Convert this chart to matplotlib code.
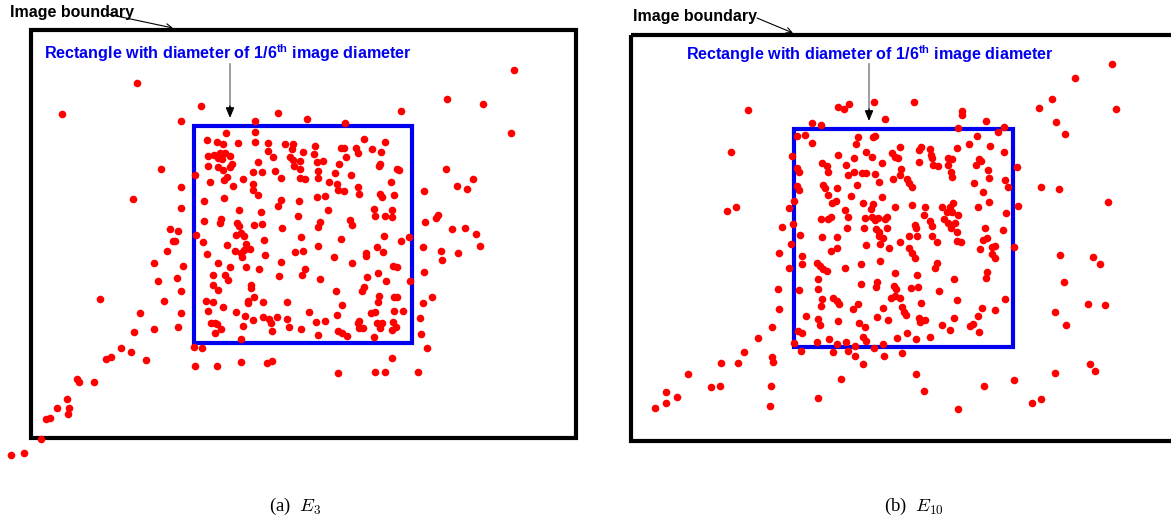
import matplotlib.pyplot as plt
from matplotlib.patches import Rectangle

# point positions, in image pixels (x right, y down)
e3_x = [137, 62, 161, 133, 170, 173, 167, 175,
        201, 181, 278, 255, 307, 345, 226, 255, 207, 217, 223, 238, 255, 268, 285, 293, 315, 341, 344, 292,
        268, 303, 314, 208, 214, 220, 225, 230, 218, 222, 273, 290, 293, 346, 258, 300, 317, 323, 339, 208,
        232, 230, 218, 223, 294, 300, 318, 253, 262, 275, 335, 351, 195, 227, 243, 281, 300, 305, 318, 210,
        224, 253, 329, 337, 181, 233, 253, 338, 344, 258, 224, 317, 325, 204, 281, 299, 278, 181, 239, 328,
        261, 298, 204, 221, 220, 237, 239, 254, 262, 282, 320, 318, 350, 352, 178, 196, 236, 241, 244, 301,
        341, 203, 227, 264, 318, 246, 250, 235, 241, 244, 295, 303, 207, 242, 265, 334,
        514, 447, 483, 401, 511, 364, 385, 356, 372, 358, 381, 380, 379, 397, 399, 446, 473, 391, 457, 467,
        424, 358, 359, 380, 382, 394, 374, 392, 375, 385, 392, 438, 436, 425, 452, 465, 476, 384, 409, 401,
        377, 383, 423, 480, 366, 366, 441, 458, 442,
        154, 158, 100, 164, 140, 154, 134, 121, 131, 106, 111, 146, 77, 79, 94, 67, 57, 69, 68, 46, 50, 41,
        24, 11,
        183, 218, 230, 246, 259, 281, 177, 213, 225, 228, 279, 302, 305, 320, 181, 213, 218, 251, 251, 336,
        206, 213, 248, 248, 254, 263, 287, 342, 223, 181, 208, 236, 245, 263, 269, 277, 309, 337, 253, 271,
        287, 316, 325, 178, 211, 215, 217, 221, 215, 243, 272, 289, 301, 318, 338, 342, 347, 241, 194, 202,
        195, 217, 241, 267, 272, 338, 352,
        393, 397, 378, 367, 386, 424, 410, 364, 362, 379, 378, 394, 397, 432, 423, 375, 371, 394, 403, 420,
        359, 358, 363, 359, 377, 382, 380, 393, 396, 392, 374, 421, 427, 392, 375, 385, 418]
e3_y = [83, 114, 169, 199, 229, 241, 251, 241,
        106, 121, 113, 121, 119, 123, 133, 132, 140, 142, 144, 143, 142, 143, 144, 144, 146, 148, 148, 149,
        151, 152, 154, 156, 155, 153, 153, 156, 158, 159, 157, 157, 160, 157, 162, 161, 162, 161, 164, 166,
        164, 167, 167, 170, 166, 169, 171, 172, 172, 171, 173, 175, 175, 177, 179, 178, 178, 179, 178, 182,
        180, 184, 182, 184, 187, 186, 190, 190, 191, 195, 198, 197, 196, 201, 200, 201, 206, 208, 210, 210,
        212, 216, 221, 219, 223, 223, 226, 225, 224, 228, 222, 227, 220, 225, 231, 235, 235, 233, 236, 237,
        239, 242, 245, 240, 246, 244, 249, 251, 253, 250, 252, 251, 254, 257, 255, 257,
        70, 99, 104, 111, 133, 139, 142, 148, 149, 153, 152, 164, 166, 169, 170, 169, 179, 182, 186, 189,
        191, 187, 194, 194, 197, 195, 209, 210, 216, 216, 217, 215, 218, 222, 229, 228, 234, 236, 237, 241,
        247, 252, 247, 246, 253, 256, 251, 253, 260,
        263, 281, 299, 301, 313, 329, 332, 348, 352, 359, 357, 360, 379, 382, 382, 399, 408, 408, 414, 419,
        418, 439, 453, 455,
        266, 263, 267, 267, 269, 262, 278, 275, 275, 280, 276, 275, 269, 279, 291, 285, 290, 285, 288, 291,
        301, 302, 301, 303, 297, 302, 302, 305, 307, 313, 311, 312, 316, 317, 319, 317, 312, 315, 320, 323,
        319, 322, 321, 327, 323, 323, 324, 329, 333, 326, 331, 327, 329, 335, 331, 333, 336, 339, 347, 348,
        366, 366, 362, 363, 361, 373, 263,
        266, 267, 273, 277, 281, 272, 281, 287, 291, 296, 302, 297, 297, 297, 303, 312, 313, 311, 311, 318,
        321, 323, 328, 328, 323, 323, 328, 322, 327, 330, 337, 334, 348, 358, 372, 372, 372]

e10_x = [748, 812, 821, 797, 805, 812, 731, 792, 797, 799, 797, 799, 727, 736, 794, 789, 782, 793, 800, 821,
         874, 914, 838, 844, 849, 885, 962, 962, 958, 986, 858, 873, 875, 856, 977, 900, 921, 919, 930, 957,
         969, 990, 866, 838, 892, 895, 898, 872, 854, 931, 932, 948, 952, 979, 981, 919, 882, 822, 827, 846,
         933, 938, 948, 976, 828, 848, 854, 862, 866, 875, 901, 900, 951, 952, 988, 989, 893, 907, 909, 879,
         857, 823, 825, 837, 974, 912, 983, 882, 851, 828, 832, 836, 863, 873, 912, 942, 950, 953, 978, 989,
         895, 845, 848, 871, 925, 924, 947, 952, 958, 828, 831, 865, 872, 875, 878, 885, 887, 930, 944, 948,
         876, 879, 887, 915, 916, 932, 955, 951, 985, 847, 864, 957,
         1112, 1075, 1052, 1039, 1116, 1056, 1065, 1004, 998, 1004, 1017, 1005, 1008, 1041, 1059, 1018, 1108,
         1006, 1003,
         791, 779, 802, 802, 789, 778, 799, 779, 806, 772, 798, 802, 758, 794, 801, 744, 772, 773, 721, 738,
         688, 771, 711, 720, 666, 677, 666, 655, 770,
         822, 837, 879, 883, 909, 917, 932, 957, 961, 983, 987, 866, 880, 900, 937, 831, 837, 889, 909, 980,
         992, 992, 995, 912, 915, 880, 817, 820, 823, 827, 861, 845, 937, 935, 895, 917, 987, 986, 954, 818,
         861, 877, 876, 894, 896, 911, 918, 818, 939, 895, 891, 900, 822, 833, 837, 839, 821, 858, 921, 957,
         853, 883, 902, 904, 906, 982, 995, 818, 820, 838, 859, 865, 877, 888, 919, 920, 925, 954, 978, 942,
         973, 970, 950, 979, 907, 897, 916, 930, 863, 866, 829, 817, 837, 846, 855, 874, 883, 833, 848, 902,
         855, 884, 863, 916, 841, 924, 984, 818, 958,
         995, 1014, 1060, 1093, 1100, 1064, 1005, 1088, 1105, 1055, 1066, 1090, 1095, 1055, 1014, 1041, 1032]
e10_y = [110, 123, 125, 136, 135, 143, 152, 156, 168, 172, 186, 190, 211, 207, 201, 208, 227, 224, 235, 219,
         102, 102, 107, 109, 104, 119, 111, 115, 128, 121, 137, 137, 136, 144, 136, 147, 147, 150, 149, 148,
         144, 146, 152, 155, 153, 157, 158, 157, 158, 155, 158, 158, 159, 159, 161, 162, 163, 163, 166, 165,
         165, 166, 165, 165, 172, 175, 172, 173, 173, 174, 169, 175, 172, 177, 170, 178, 179, 179, 183, 182,
         185, 185, 188, 188, 183, 187, 192, 197, 196, 195, 203, 201, 203, 204, 205, 207, 207, 203, 207, 202,
         207, 210, 217, 209, 207, 215, 212, 212, 215, 219, 217, 218, 217, 220, 218, 219, 217, 221, 219, 223,
         229, 232, 228, 225, 228, 226, 223, 228, 228, 228, 228, 232,
         64, 78, 99, 108, 109, 122, 134, 127, 132, 152, 167, 180, 187, 187, 189, 206, 202,
         213, 230,
         244, 253, 256, 264, 268, 289, 290, 309, 316, 327, 331, 333, 338, 343, 351, 352, 357, 362, 363, 363,
         374, 386, 387, 386, 392, 397, 403, 408, 406,
         237, 237, 236, 238, 236, 236, 236, 241, 242, 240, 238, 245, 244, 242, 242, 251, 248, 248, 248, 249,
         247, 254, 258, 253, 258, 261, 263, 266, 269, 271, 264, 268, 263, 268, 273, 275, 272, 278, 279, 279,
         284, 282, 287, 286, 289, 288, 287, 289, 291, 296, 298, 298, 299, 298, 301, 304, 306, 304, 303, 300,
         309, 308, 307, 312, 315, 308, 310, 319, 325, 321, 323, 327, 317, 320, 318, 322, 320, 318, 316, 325,
         324, 326, 330, 332, 333, 338, 339, 337, 337, 341, 339, 342, 344, 342, 346, 348, 344, 352, 351, 353,
         356, 356, 364, 374, 379, 391, 386, 398, 409,
         246, 247, 255, 257, 264, 282, 299, 304, 305, 312, 325, 364, 371, 373, 380, 399, 403]

# frames: (left, top, right, bottom)
e3_boundary = (31, 30, 576, 438)
e3_square = (194, 126, 412, 343)
e10_boundary = (631, 35, 1176, 441)
e10_square = (794, 129, 1013, 347)

captions = ['(a)  $E_3$', '(b)  $E_{10}$']
caption_x = [295, 914]

plt.rcParams['mathtext.bf'] = 'Liberation Sans:bold'

fig = plt.figure(figsize=(11.71, 5.19), dpi=100)
ax = fig.add_axes([0, 0, 1, 1])
ax.set_xlim(0, 1171)
ax.set_ylim(519, 0)
ax.axis('off')


def frame(box, color):
    l, t, r, b = box
    ax.add_patch(Rectangle((l, t), r - l, b - t, fill=False, edgecolor=color, lw=3.0, zorder=1))


frame(e3_boundary, 'black')
frame(e3_square, '#0000ee')
frame(e10_boundary, 'black')
frame(e10_square, '#0000ee')

ax.scatter(e3_x, e3_y, s=30, color='#ff0000', linewidths=0, zorder=3)
ax.scatter(e10_x, e10_y, s=30, color='#ff0000', linewidths=0, zorder=3)

sans = 'Liberation Sans'
panels = [(10, 13, 107, 173, 28, 44, 53, 230, 64, 118),
          (633, 17, 757, 793, 33, 686, 54, 869, 64, 121)]
for (tx, ty, ax0, ax1, ay1, bx, by, vx, vy0, vy1) in panels:
    ax.text(tx, ty, 'Image boundary', fontsize=11.5, fontweight='bold', family=sans,
            ha='left', va='center', color='black')
    ax.annotate('', xy=(ax1, ay1), xytext=(ax0, ty + 1),
                arrowprops=dict(arrowstyle='->', lw=0.8, color='black', shrinkA=0, shrinkB=0))
    ax.text(bx, by, r'Rectangle with diameter of 1/6$^{\mathbf{th}}$ image diameter',
            fontsize=11.6, fontweight='bold', family=sans, color='#0000ee',
            ha='left', va='center', math_fontfamily='custom')
    ax.plot([vx, vx], [vy0, vy1 - 6], color='0.55', lw=1.2, zorder=2)
    ax.annotate('', xy=(vx, vy1), xytext=(vx, vy1 - 12),
                arrowprops=dict(arrowstyle='-|>,head_length=0.6,head_width=0.25', lw=1.0,
                                color='black', shrinkA=0, shrinkB=0))

for cx, cap in zip(caption_x, captions):
    ax.text(cx, 506, cap, fontsize=13.5, family='Liberation Serif', ha='center', va='center',
            math_fontfamily='cm')

fig.savefig('out.png', dpi=100)
